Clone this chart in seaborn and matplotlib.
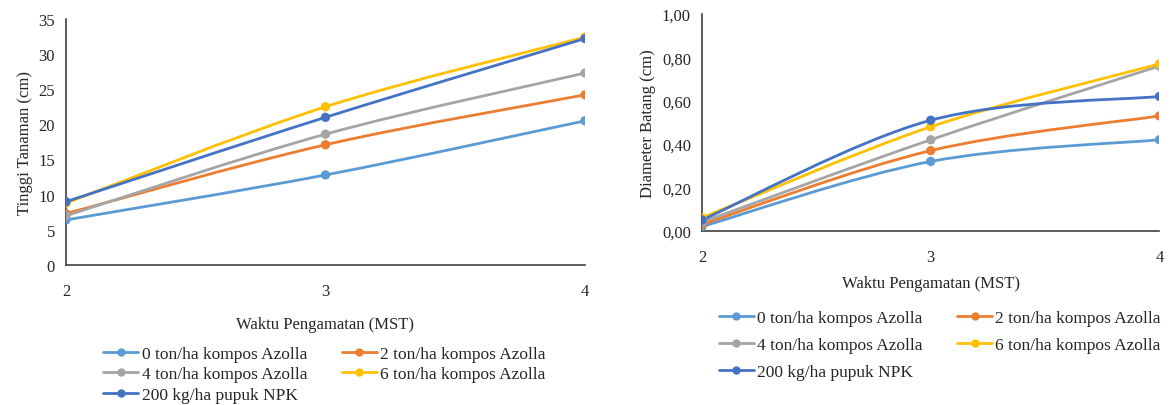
import matplotlib
matplotlib.use('Agg')
import matplotlib.pyplot as plt
from matplotlib.path import Path
from matplotlib.patches import PathPatch
from matplotlib.lines import Line2D
import seaborn as sns
import pandas as pd

weeks = [2, 3, 4]
series = ['0 ton/ha kompos Azolla', '2 ton/ha kompos Azolla', '4 ton/ha kompos Azolla',
          '6 ton/ha kompos Azolla', '200 kg/ha pupuk NPK']
colors = ['#5B9BD5', '#ED7D31', '#A5A5A5', '#FFC000', '#4472C4']

tinggi_0 = [6.4, 12.8, 20.5]
tinggi_2 = [7.3, 17.1, 24.2]
tinggi_4 = [7.0, 18.6, 27.3]
tinggi_6 = [8.8, 22.5, 32.4]
tinggi_npk = [9.0, 21.0, 32.2]

diameter_0 = [0.02, 0.32, 0.42]
diameter_2 = [0.03, 0.37, 0.53]
diameter_4 = [0.04, 0.42, 0.76]
diameter_6 = [0.06, 0.48, 0.77]
diameter_npk = [0.05, 0.51, 0.62]

tinggi = [tinggi_0, tinggi_2, tinggi_4, tinggi_6, tinggi_npk]
diameter = [diameter_0, diameter_2, diameter_4, diameter_6, diameter_npk]


def smooth_path(xs, ys):
    # excel style smoothed line: cubic bezier through the points
    pts = list(zip(xs, ys))
    verts = [pts[0]]
    codes = [Path.MOVETO]
    for i in range(len(pts) - 1):
        p0 = pts[i - 1] if i > 0 else pts[i]
        p1 = pts[i]
        p2 = pts[i + 1]
        p3 = pts[i + 2] if i + 2 < len(pts) else pts[i + 1]
        c1 = (p1[0] + (p2[0] - p0[0]) / 6, p1[1] + (p2[1] - p0[1]) / 6)
        c2 = (p2[0] - (p3[0] - p1[0]) / 6, p2[1] - (p3[1] - p1[1]) / 6)
        verts += [c1, c2, p2]
        codes += [Path.CURVE4] * 3
    return Path(verts, codes)


def long_df(values):
    rows = []
    for name, vals in zip(series, values):
        for w, v in zip(weeks, vals):
            rows.append({'week': w, 'value': v, 'series': name})
    return pd.DataFrame(rows)


sns.set_style('white')
plt.rcParams['font.family'] = ['Liberation Serif', 'DejaVu Serif']

fig = plt.figure(figsize=(11.7, 4.06), dpi=100)
ax1 = fig.add_axes([0.0564, 0.345, 0.4436, 0.606])
ax2 = fig.add_axes([0.600, 0.429, 0.391, 0.534])


def draw(ax, values, ylim, yticks, ytick_labels, ylabel, xpad):
    df = long_df(values)
    for name, vals, c in zip(series, values, colors):
        ax.add_patch(PathPatch(smooth_path(weeks, vals), facecolor='none', edgecolor=c,
                               lw=2.0, zorder=2))
    sns.scatterplot(data=df, x='week', y='value', hue='series', palette=colors,
                    s=45, edgecolor='none', legend=False, ax=ax, zorder=3)
    ax.set_xlim(2, 4)
    ax.set_ylim(*ylim)
    ax.set_xticks(weeks)
    ax.set_yticks(yticks)
    ax.set_yticklabels(ytick_labels)
    ax.tick_params(labelsize=12, length=0, pad=8)
    ax.tick_params(axis='x', pad=13)
    for s in ['top', 'right']:
        ax.spines[s].set_visible(False)
    for s in ['left', 'bottom']:
        ax.spines[s].set_color('#404040')
        ax.spines[s].set_linewidth(1.2)
    ax.set_ylabel(ylabel, fontsize=12, labelpad=4)
    ax.set_xlabel('Waktu Pengamatan (MST)', fontsize=12, labelpad=xpad)


draw(ax1, tinggi, (0, 35), range(0, 36, 5), [str(v) for v in range(0, 36, 5)],
     'Tinggi Tanaman (cm)', 12)
dticks = [0, 0.2, 0.4, 0.6, 0.8, 1.0]
draw(ax2, diameter, (0, 1.0), dticks, [f'{v:.2f}'.replace('.', ',') for v in dticks],
     'Diameter Batang (cm)', 7)

# legend reads row by row: 0 | 2 / 4 | 6 / NPK
order = [0, 2, 4, 1, 3]
handles = [Line2D([0], [0], color=colors[i], lw=2, marker='o', markersize=5) for i in order]
labels = [series[i] for i in order]
fig.legend(handles, labels, loc='upper left', bbox_to_anchor=(0.081, 0.168), ncol=2,
           frameon=False, fontsize=12.5, handlelength=2.0, handletextpad=0.2,
           columnspacing=2.0, labelspacing=0.26, borderpad=0)
fig.legend(handles, labels, loc='upper left', bbox_to_anchor=(0.607, 0.256), ncol=2,
           frameon=False, fontsize=12.5, handlelength=2.0, handletextpad=0.2,
           columnspacing=2.0, labelspacing=0.62, borderpad=0)

fig.savefig('out.png', dpi=100)
